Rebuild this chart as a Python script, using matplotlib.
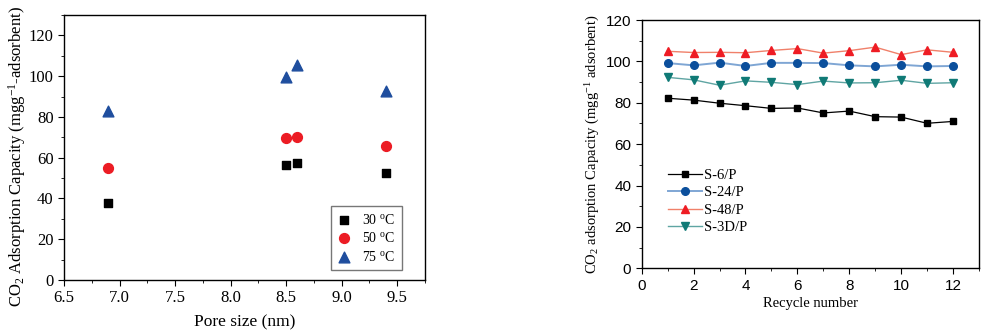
import matplotlib
matplotlib.use("Agg")
import matplotlib.pyplot as plt
from matplotlib.ticker import MultipleLocator

plt.rcParams["font.family"] = ["Liberation Serif", "DejaVu Serif"]
plt.rcParams["mathtext.fontset"] = "custom"
plt.rcParams["mathtext.rm"] = "Liberation Serif"
plt.rcParams["mathtext.it"] = "Liberation Serif:italic"

# Left panel: capacity vs pore size at three temperatures
pore_size = [6.9, 8.5, 8.6, 9.4]
cap_30 = [37.6, 56.3, 57.2, 52.3]
cap_50 = [54.8, 69.6, 70.3, 65.5]
cap_75 = [82.8, 99.7, 105.5, 92.6]
temp_labels = ["30 $^{\\rm o}$C", "50 $^{\\rm o}$C", "75 $^{\\rm o}$C"]

# Right panel: capacity over adsorption/desorption cycles
cycles = list(range(1, 13))
s6 = [82.2, 81.3, 79.8, 78.6, 77.3, 77.5, 75.1, 76.0, 73.3, 73.1, 70.1, 71.0]
s24 = [99.2, 98.1, 99.4, 97.8, 99.3, 99.3, 99.2, 98.1, 97.6, 98.4, 97.6, 97.8]
s48 = [104.9, 104.3, 104.4, 104.2, 105.3, 106.2, 104.0, 105.2, 106.9, 103.3, 105.6, 104.4]
s3d = [92.3, 91.1, 88.5, 90.6, 89.9, 88.8, 90.5, 89.6, 89.7, 90.9, 89.4, 89.7]
series_labels = ["S-6/P", "S-24/P", "S-48/P", "S-3D/P"]

fig = plt.figure(figsize=(9.94, 3.34), dpi=100)

# ---- left panel ----
ax1 = fig.add_axes([0.0644, 0.1617, 0.3632, 0.7934])
ax1.scatter(pore_size, cap_30, marker="s", s=40, color="black", label=temp_labels[0], zorder=3)
ax1.scatter(pore_size, cap_50, marker="o", s=50, color="#ec1c24", label=temp_labels[1], zorder=3)
ax1.scatter(pore_size, cap_75, marker="^", s=60, color="#1f4e9e", label=temp_labels[2], zorder=3)
ax1.set_xlim(6.5, 9.75)
ax1.set_ylim(0, 130)
ax1.xaxis.set_major_locator(MultipleLocator(0.5))
ax1.xaxis.set_minor_locator(MultipleLocator(0.25))
ax1.yaxis.set_major_locator(MultipleLocator(20))
ax1.yaxis.set_minor_locator(MultipleLocator(10))
ax1.tick_params(which="both", direction="out", labelsize=12, top=False, right=False)
ax1.tick_params(which="major", length=4)
ax1.tick_params(which="minor", length=2.5)
ax1.set_xlabel("Pore size (nm)", fontsize=12.5, labelpad=6)
ax1.set_ylabel("CO$_2$ Adsorption Capacity (mgg$^{-1}$-adsorbent)", fontsize=12)
ax1.yaxis.set_label_coords(-0.10, 0.465)
leg1 = ax1.legend(loc="lower right", bbox_to_anchor=(0.935, 0.038), borderaxespad=0,
                  fontsize=10, frameon=True, fancybox=False, edgecolor="#555555",
                  handletextpad=0.8, labelspacing=0.33, borderpad=0.45,
                  handlelength=1.0, scatterpoints=1)
leg1.get_frame().set_linewidth(1.0)
for sp in ax1.spines.values():
    sp.set_linewidth(1.0)

# ---- right panel ----
ax2 = fig.add_axes([0.6456, 0.1966, 0.3393, 0.7434])
ax2.plot(cycles, s6, color="black", lw=0.9, marker="s", ms=5, mfc="black", mec="black", label=series_labels[0])
ax2.plot(cycles, s24, color="#7fa6d4", lw=1.4, marker="o", ms=5.5, mfc="#0b4f9c", mec="#0b4f9c", label=series_labels[1])
ax2.plot(cycles, s48, color="#f0806a", lw=1.0, marker="^", ms=6, mfc="#ee1c24", mec="#ee1c24", label=series_labels[2])
ax2.plot(cycles, s3d, color="#5fa5a3", lw=1.0, marker="v", ms=6, mfc="#107a76", mec="#107a76", label=series_labels[3])
ax2.set_xlim(0, 13)
ax2.set_ylim(0, 120)
ax2.xaxis.set_major_locator(MultipleLocator(2))
ax2.xaxis.set_minor_locator(MultipleLocator(1))
ax2.yaxis.set_major_locator(MultipleLocator(20))
ax2.yaxis.set_minor_locator(MultipleLocator(10))
ax2.tick_params(which="both", direction="out", labelsize=11, top=False, right=False)
ax2.tick_params(which="major", length=4)
ax2.tick_params(which="minor", length=2.5)
for lab in ax2.get_xticklabels() + ax2.get_yticklabels():
    lab.set_fontfamily(["Liberation Sans", "DejaVu Sans"])
ax2.set_xlabel("Recycle number", fontsize=10.5, labelpad=3)
ax2.set_ylabel("CO$_2$ adsorption Capacity (mgg$^{-1}$ adsorbent)", fontsize=10.5, labelpad=3)
ax2.legend(loc="upper left", bbox_to_anchor=(0.04, 0.455), fontsize=10.5, frameon=False,
           handlelength=2.3, handletextpad=0.15, labelspacing=0.3)
for sp in ax2.spines.values():
    sp.set_linewidth(1.0)

fig.savefig("out.png", dpi=100)
